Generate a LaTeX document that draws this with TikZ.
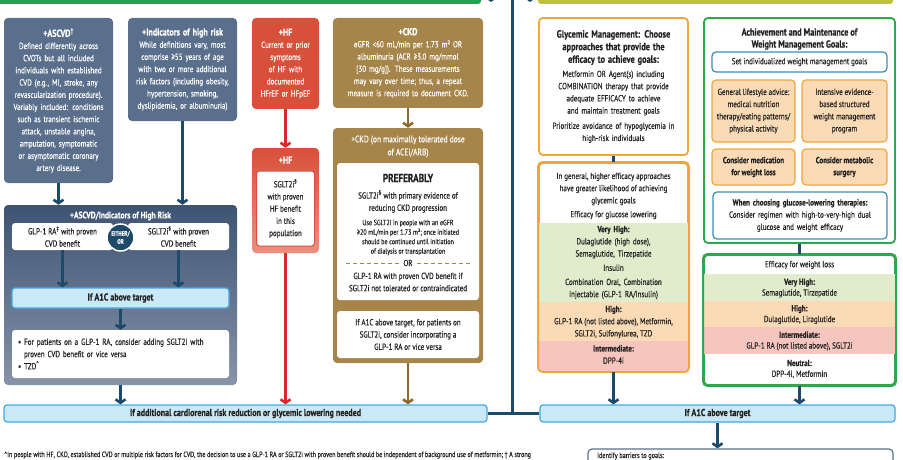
\documentclass[tikz,border=0pt]{standalone}
\usepackage{fontspec}
\setmainfont{PT Sans}[FakeStretch=0.8,UprightFeatures={FakeBold=0.35},BoldFeatures={FakeBold=0.5}]
\usetikzlibrary{arrows.meta}
\definecolor{SlateBox}{HTML}{5A6F8C}
\definecolor{NavyLine}{HTML}{1E4A6A}
\definecolor{HfRed}{HTML}{D8503A}
\definecolor{HfPink}{HTML}{EC8F7C}
\definecolor{HfArrow}{HTML}{D42A2A}
\definecolor{CkdTan}{HTML}{A6854B}
\definecolor{CkdArrow}{HTML}{8C6A2C}
\definecolor{SkyFill}{HTML}{C9E8F8}
\definecolor{SkyLine}{HTML}{45A9DF}
\definecolor{GoalOrange}{HTML}{F1A63A}
\definecolor{GoalGreen}{HTML}{2EA84C}
\definecolor{BarOlive}{HTML}{BFC33B}
\definecolor{BarGreen}{HTML}{22A24B}
\definecolor{BandGreen}{HTML}{E0ECCB}
\definecolor{BandOrange}{HTML}{FBDAB6}
\definecolor{BandRed}{HTML}{F6C5BE}
\definecolor{TealLine}{HTML}{3E8DB5}
\definecolor{InkGray}{HTML}{222222}
\definecolor{ComboTop}{HTML}{3D5473}
\definecolor{ComboBottom}{HTML}{8793A8}
\newcommand{\tophead}{\fontsize{10}{14}\selectfont\bfseries}

\begin{document}
\begin{tikzpicture}[x=1pt,y=-1pt,
  every node/.style={align=center,inner sep=0pt,text=InkGray,font=\fontsize{8.8}{12.2}\selectfont},
  slatebox/.style={fill=SlateBox,rounded corners=4pt,text=white},
  redbox/.style={rounded corners=4pt,text=white},
  tanbox/.style={fill=CkdTan,rounded corners=4pt,text=white},
  whitebox/.style={fill=white,rounded corners=3pt},
  skybox/.style={fill=SkyFill,draw=SkyLine,line width=1.2pt,rounded corners=3pt,font=\fontsize{10}{11}\selectfont\bfseries},
  orangeframe/.style={fill=white,draw=GoalOrange,line width=1.8pt,rounded corners=4pt},
  greenframe/.style={fill=white,draw=GoalGreen,line width=1.8pt,rounded corners=4pt},
  tealbox/.style={fill=white,draw=TealLine,line width=1.2pt,rounded corners=4pt},
  peachbox/.style={fill=BandOrange,draw=GoalOrange,line width=1.2pt,rounded corners=4pt},
  bandtext/.style={font=\fontsize{8.8}{10.8}\selectfont},
  flow/.style={draw=NavyLine,line width=2.6pt,-{Straight Barb[length=3.5pt,width=10pt]}},
  link/.style={draw=NavyLine,line width=2.6pt}]
\useasboundingbox (0,0) rectangle (903,460);
\clip (0,0) rectangle (903,460);

% bars cut by the top edge
\fill[BarGreen,rounded corners=3pt] (-6,-10) rectangle (481,4);
\fill[BarOlive,rounded corners=3pt] (538,-10) rectangle (893,4);

% risk groups
\node[slatebox,minimum width=109pt,minimum height=165pt,text width=105pt] (ascvd) at (58.5,100.5)
  {{\tophead +ASCVD\textsuperscript{†}\par}
   Defined differently across\\CVOTs but all included\\individuals with established\\CVD (e.g., MI, stroke, any\\revascularization procedure).\\Variably included: conditions\\such as transient ischemic\\attack, unstable angina,\\amputation, symptomatic\\or asymptomatic coronary\\artery disease.};
\node[slatebox,minimum width=109pt,minimum height=103pt,text width=105pt] (indic) at (182.5,69.5)
  {{\tophead +Indicators of high risk\par}
   While definitions vary, most\\comprise ≥55 years of age\\with two or more additional\\risk factors (including obesity,\\hypertension, smoking,\\dyslipidemia, or albuminuria)};
\node[redbox,fill=HfRed,minimum width=67pt,minimum height=91pt,text width=63pt] (hf) at (285.5,63.5)
  {{\tophead +HF\par}
   Current or prior\\symptoms\\of HF with\\documented\\HFrEF or HFpEF};
\node[tanbox,minimum width=150pt,minimum height=90pt,text width=146pt] (ckd) at (408,63)
  {{\tophead +CKD\par}
   eGFR <60 mL/min per 1.73 m² OR\\albuminuria (ACR ≥3.0 mg/mmol\\{[}30 mg/g{]}). These measurements\\may vary over time; thus, a repeat\\measure is required to document CKD.};

% heart failure
\node[redbox,top color=HfRed,bottom color=HfPink,minimum width=67pt,minimum height=105pt] (hftwo) at (285.5,200.5) {};
\node[text=white,font=\tophead] (hftwohead) at (285.5,160) {+HF};
\node[whitebox,draw=HfRed,line width=1pt,minimum width=58pt,minimum height=75pt] (hfin) at (285.5,208.5)
  {SGLT2i\textsuperscript{§}\\with proven\\HF benefit\\in this\\population};

% chronic kidney disease
\node[tanbox,minimum width=150pt,minimum height=235pt] (ckdtwo) at (408,245.5) {};
\node[text=white,font=\fontsize{9.4}{13}\selectfont] (ckdtwohead) at (408,146.5) {+CKD (on maximally tolerated dose\\of ACEi/ARB)};
\node[whitebox,minimum width=142pt,minimum height=137pt] (ckdpref) at (408,231.5) {};
\node[font=\fontsize{11.5}{13}\selectfont\bfseries] (prefhead) at (408,178) {PREFERABLY};
\node (preftext) at (408,201.5) {SGLT2i\textsuperscript{§} with primary evidence of\\reducing CKD progression};
\node[font=\fontsize{7.6}{9.5}\selectfont] (prefnote) at (408,237.5) {Use SGLT2i in people with an eGFR\\≥20 mL/min per 1.73 m²; once initiated\\should be continued until initiation\\of dialysis or transplantation};
\node (prefor) at (408,263) {OR};
\draw[CkdTan,dash pattern=on 4pt off 3pt,line width=1pt,shorten <=4pt,shorten >=7pt] (prefor.west) -- (prefor -| ckdpref.west);
\draw[CkdTan,dash pattern=on 4pt off 3pt,line width=1pt,shorten <=4pt,shorten >=7pt] (prefor.east) -- (prefor -| ckdpref.east);
\node (prefalt) at (408,282) {GLP-1 RA with proven CVD benefit if\\SGLT2i not tolerated or contraindicated};
\node[whitebox,minimum width=142pt,minimum height=47pt] (ckdafter) at (408,334.5)
  {If A1C above target, for patients on\\SGLT2i, consider incorporating a\\GLP-1 RA or vice versa};

% ascvd / high risk
\node[rounded corners=4pt,top color=ComboTop,bottom color=ComboBottom,minimum width=233pt,minimum height=180pt] (combo) at (120.5,295) {};
\node[text=white,font=\fontsize{9.4}{11}\selectfont\bfseries] (combohead) at (120.5,216) {+ASCVD/Indicators of High Risk};
\node[whitebox,minimum width=101pt,minimum height=27pt] (glp) at (62.5,236.5) {GLP-1 RA\textsuperscript{‡} with proven\\CVD benefit};
\node[whitebox,minimum width=101pt,minimum height=27pt] (sglt) at (178.5,236.5) {SGLT2i\textsuperscript{§} with proven\\CVD benefit};
\node[circle,fill=NavyLine,draw=white,line width=1.5pt,minimum size=27pt,text=white,font=\fontsize{6.4}{8}\selectfont\bfseries] (either) at (120.5,237.5) {EITHER/\\OR};
\node[skybox,minimum width=217pt,minimum height=20pt] (aonec) at (120.5,298) {If A1C above target};
\node[whitebox,minimum width=217pt,minimum height=48pt,text width=205pt,align=left] (addon) at (120.5,354)
  {•\ For patients on a GLP-1 RA, consider adding SGLT2i with\\\hspace*{6pt}proven CVD benefit or vice versa\\•\ TZD\textsuperscript{\textasciicircum}};

% bottom row
\node[skybox,minimum width=483pt,minimum height=17pt] (needed) at (245.5,413.5) {If additional cardiorenal risk reduction or glycemic lowering needed};
\node[skybox,minimum width=355pt,minimum height=17pt] (above) at (717.5,413.5) {If A1C above target};
\node[draw=SlateBox,line width=1.2pt,fill=white,rounded corners=4pt,minimum width=305pt,minimum height=40pt] (barriers) at (740.5,469) {};
\node[anchor=base west,font=\fontsize{7.8}{9}\selectfont] (barrierstext) at (597,458) {Identify barriers to goals:};
\node[anchor=base west,font=\fontsize{7.6}{9}\selectfont] (footnote) at (4,457)
  {\textasciicircum In people with HF, CKD, established CVD or multiple risk factors for CVD, the decision to use a GLP-1 RA or SGLT2i with proven benefit should be independent of background use of metformin; † A strong};

% glycemic management
\node[orangeframe,minimum width=149pt,minimum height=137pt,text width=145pt] (glyc) at (613.5,86.5)
  {{\fontsize{10.4}{12.6}\selectfont\bfseries Glycemic Management: Choose\\approaches that provide the\\efficacy to achieve goals:\par}
   \vspace{2pt}Metformin OR Agent(s) including\\COMBINATION therapy that provide\\adequate EFFICACY to achieve\\and maintain treatment goals\par
   \vspace{3pt}Prioritize avoidance of hypoglycemia in\\high-risk individuals};
\node[orangeframe,minimum width=149pt,minimum height=208pt] (eff) at (613.5,267) {};
\begin{scope}
  \clip[rounded corners=4pt] (eff.north west) rectangle (eff.south east);
  \fill[BandGreen] (539,223) rectangle (688,302);
  \fill[BandOrange] (539,302) rectangle (688,341);
  \fill[BandRed] (539,341) rectangle (688,372);
\end{scope}
\draw[GoalOrange,line width=1.8pt,rounded corners=4pt] (eff.north west) rectangle (eff.south east);
\node (effintro) at (613.5,189) {In general, higher efficacy approaches\\have greater likelihood of achieving\\glycemic goals};
\node (efflabel) at (613.5,215) {Efficacy for glucose lowering};
\node[text width=145pt] (effvhigh) at (613.5,262.5)
  {\textbf{Very High:}\\Dulaglutide (high dose),\\Semaglutide, Tirzepatide\par\vspace{2pt}Insulin\par\vspace{2pt}Combination Oral, Combination\\Injectable (GLP-1 RA/Insulin)};
\node (effhigh) at (613.5,322) {\textbf{High:}\\GLP-1 RA (not listed above), Metformin,\\SGLT2i, Sulfonylurea, TZD};
\node (effmid) at (613.5,354.5) {\textbf{Intermediate:}\\DPP-4i};

% weight management
\node[greenframe,minimum width=191pt,minimum height=225pt] (weight) at (799.5,130.5) {};
\node[font=\fontsize{10.2}{12}\selectfont\bfseries] (weighthead) at (799.5,39) {Achievement and Maintenance of\\Weight Management Goals:};
\node[tealbox,minimum width=175pt,minimum height=20pt] (setgoal) at (799.5,62) {Set individualized weight management goals};
\node[peachbox,minimum width=83pt,minimum height=62pt] (life) at (753.5,111) {General lifestyle advice:\\medical nutrition\\therapy/eating patterns/\\physical activity};
\node[peachbox,minimum width=85pt,minimum height=62pt] (intens) at (844.5,111) {Intensive evidence-\\based structured\\weight management\\program};
\node[peachbox,minimum width=83pt,minimum height=36pt,font=\fontsize{8.8}{12}\selectfont\bfseries] (meds) at (753.5,167) {Consider medication\\for weight loss};
\node[peachbox,minimum width=85pt,minimum height=36pt,font=\fontsize{8.8}{12}\selectfont\bfseries] (surg) at (844.5,167) {Consider metabolic\\surgery};
\node[tealbox,minimum width=174pt,minimum height=47pt,text width=170pt] (choose) at (800,215.5)
  {{\bfseries When choosing glucose-lowering therapies:\par}
   Consider regimen with high-to-very-high dual\\glucose and weight efficacy};
\node[greenframe,minimum width=191pt,minimum height=130pt] (wteff) at (799.5,320) {};
\begin{scope}
  \clip[rounded corners=4pt] (wteff.north west) rectangle (wteff.south east);
  \fill[BandGreen] (704,274) rectangle (895,301);
  \fill[BandOrange] (704,301) rectangle (895,327);
  \fill[BandRed] (704,327) rectangle (895,354);
\end{scope}
\draw[GoalGreen,line width=1.8pt,rounded corners=4pt] (wteff.north west) rectangle (wteff.south east);
\node (wtlabel) at (799.5,265) {Efficacy for weight loss};
\node[bandtext] (wtvhigh) at (799.5,288) {\textbf{Very High:}\\Semaglutide, Tirzepatide};
\node[bandtext] (wthigh) at (799.5,314.5) {\textbf{High:}\\Dulaglutide, Liraglutide};
\node[bandtext] (wtmid) at (799.5,341) {\textbf{Intermediate:}\\GLP-1 RA (not listed above), SGLT2i};
\node[bandtext] (wtneutral) at (799.5,369) {\textbf{Neutral:}\\DPP-4i, Metformin};

% connectors
\draw[flow] (ascvd.south) -- (ascvd.south |- combo.north);
\draw[flow] (indic.south) -- (indic.south |- combo.north);
\draw[flow,draw=HfArrow] (hf.south) -- (hftwo.north);
\draw[flow,draw=CkdArrow] (ckd.south) -- (ckdtwo.north);
\draw[flow] (glp.south) -- (glp.south |- aonec.north);
\draw[flow] (sglt.south) -- (sglt.south |- aonec.north);
\draw[flow] (aonec.south) -- (addon.north);
\draw[flow] (combo.south) -- (combo.south |- needed.north);
\draw[flow,draw=HfArrow] (hftwo.south) -- (hftwo.south |- needed.north);
\draw[flow,draw=CkdArrow] (ckdtwo.south) -- (ckdtwo.south |- needed.north);
\draw[link] (glyc.south) -- (eff.north);
\draw[flow] (eff.south) -- (eff.south |- above.north);
\draw[link] (weight.south) -- (wteff.north);
\draw[flow] (wteff.south) -- (wteff.south |- above.north);
\draw[flow] (above.south) -- (above.south |- barriers.north);

% divider between the two halves
\coordinate (divtop) at (512,-6);
\coordinate (divjoin) at (512,413.5);
\draw[NavyLine,line width=3pt] (needed.east) -- (above.west);
\draw[NavyLine,line width=3pt] (divtop) -- (divjoin);
\coordinate (stubleft) at (491,-10);
\coordinate (stubleftend) at (491,2);
\coordinate (stubright) at (530,-10);
\coordinate (stubrightend) at (530,2);
\draw[flow,line width=1.2pt] (stubleft) -- (stubleftend);
\draw[flow,line width=1.2pt] (stubright) -- (stubrightend);
\end{tikzpicture}
\end{document}
